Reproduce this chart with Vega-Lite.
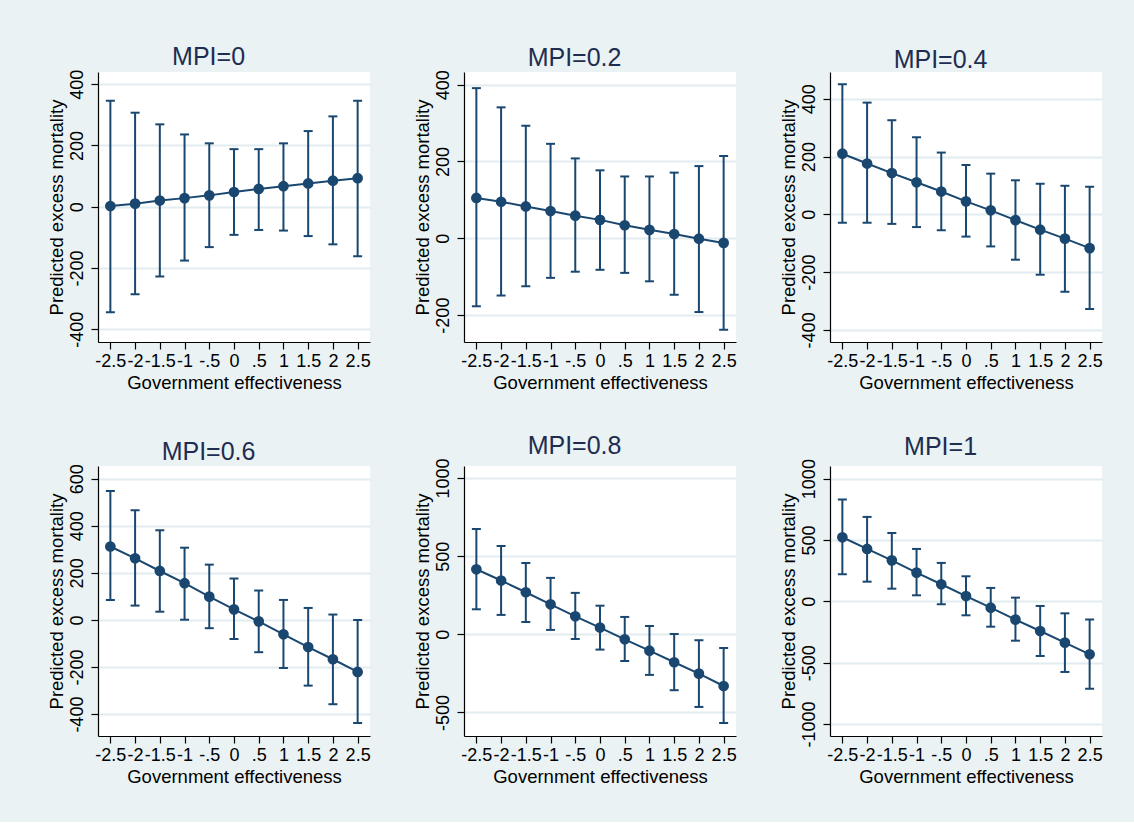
{
  "$schema": "https://vega.github.io/schema/vega-lite/v6.json",
  "padding": {"left": 46, "top": 45, "right": 31, "bottom": 36},
  "datasets": {
    "d": [
      {"mpi": 0, "x": -2.5, "y": 2, "lo": -345, "hi": 346},
      {"mpi": 0, "x": -2, "y": 10, "lo": -286, "hi": 307},
      {"mpi": 0, "x": -1.5, "y": 20, "lo": -228, "hi": 269},
      {"mpi": 0, "x": -1, "y": 28, "lo": -176, "hi": 236},
      {"mpi": 0, "x": -0.5, "y": 37, "lo": -132, "hi": 207},
      {"mpi": 0, "x": 0, "y": 48, "lo": -92, "hi": 188},
      {"mpi": 0, "x": 0.5, "y": 58, "lo": -76, "hi": 188},
      {"mpi": 0, "x": 1, "y": 67, "lo": -78, "hi": 207},
      {"mpi": 0, "x": 1.5, "y": 76, "lo": -96, "hi": 247},
      {"mpi": 0, "x": 2, "y": 85, "lo": -123, "hi": 295},
      {"mpi": 0, "x": 2.5, "y": 93, "lo": -162, "hi": 346},
      {"mpi": 0.2, "x": -2.5, "y": 105, "lo": -177, "hi": 391},
      {"mpi": 0.2, "x": -2, "y": 95, "lo": -149, "hi": 341},
      {"mpi": 0.2, "x": -1.5, "y": 83, "lo": -125, "hi": 293},
      {"mpi": 0.2, "x": -1, "y": 71, "lo": -103, "hi": 246},
      {"mpi": 0.2, "x": -0.5, "y": 59, "lo": -87, "hi": 208},
      {"mpi": 0.2, "x": 0, "y": 48, "lo": -82, "hi": 177},
      {"mpi": 0.2, "x": 0.5, "y": 34, "lo": -90, "hi": 161},
      {"mpi": 0.2, "x": 1, "y": 22, "lo": -112, "hi": 161},
      {"mpi": 0.2, "x": 1.5, "y": 11, "lo": -147, "hi": 171},
      {"mpi": 0.2, "x": 2, "y": -1, "lo": -192, "hi": 188},
      {"mpi": 0.2, "x": 2.5, "y": -12, "lo": -238, "hi": 214},
      {"mpi": 0.4, "x": -2.5, "y": 210, "lo": -29, "hi": 451},
      {"mpi": 0.4, "x": -2, "y": 176, "lo": -29, "hi": 387},
      {"mpi": 0.4, "x": -1.5, "y": 143, "lo": -33, "hi": 326},
      {"mpi": 0.4, "x": -1, "y": 111, "lo": -44, "hi": 267},
      {"mpi": 0.4, "x": -0.5, "y": 79, "lo": -55, "hi": 214},
      {"mpi": 0.4, "x": 0, "y": 45, "lo": -77, "hi": 171},
      {"mpi": 0.4, "x": 0.5, "y": 14, "lo": -111, "hi": 141},
      {"mpi": 0.4, "x": 1, "y": -20, "lo": -157, "hi": 118},
      {"mpi": 0.4, "x": 1.5, "y": -53, "lo": -209, "hi": 106},
      {"mpi": 0.4, "x": 2, "y": -84, "lo": -268, "hi": 99},
      {"mpi": 0.4, "x": 2.5, "y": -117, "lo": -328, "hi": 96},
      {"mpi": 0.6, "x": -2.5, "y": 312, "lo": 85, "hi": 548},
      {"mpi": 0.6, "x": -2, "y": 262, "lo": 61, "hi": 466},
      {"mpi": 0.6, "x": -1.5, "y": 208, "lo": 35, "hi": 381},
      {"mpi": 0.6, "x": -1, "y": 156, "lo": 1, "hi": 307},
      {"mpi": 0.6, "x": -0.5, "y": 99, "lo": -35, "hi": 235},
      {"mpi": 0.6, "x": 0, "y": 45, "lo": -81, "hi": 176},
      {"mpi": 0.6, "x": 0.5, "y": -6, "lo": -137, "hi": 125},
      {"mpi": 0.6, "x": 1, "y": -61, "lo": -204, "hi": 85},
      {"mpi": 0.6, "x": 1.5, "y": -115, "lo": -279, "hi": 51},
      {"mpi": 0.6, "x": 2, "y": -167, "lo": -358, "hi": 23},
      {"mpi": 0.6, "x": 2.5, "y": -221, "lo": -438, "hi": 0},
      {"mpi": 0.8, "x": -2.5, "y": 416, "lo": 160, "hi": 674},
      {"mpi": 0.8, "x": -2, "y": 344, "lo": 124, "hi": 565},
      {"mpi": 0.8, "x": -1.5, "y": 269, "lo": 79, "hi": 457},
      {"mpi": 0.8, "x": -1, "y": 192, "lo": 28, "hi": 361},
      {"mpi": 0.8, "x": -0.5, "y": 115, "lo": -30, "hi": 265},
      {"mpi": 0.8, "x": 0, "y": 43, "lo": -98, "hi": 183},
      {"mpi": 0.8, "x": 0.5, "y": -32, "lo": -171, "hi": 111},
      {"mpi": 0.8, "x": 1, "y": -105, "lo": -260, "hi": 53},
      {"mpi": 0.8, "x": 1.5, "y": -179, "lo": -358, "hi": 2},
      {"mpi": 0.8, "x": 2, "y": -252, "lo": -465, "hi": -38},
      {"mpi": 0.8, "x": 2.5, "y": -331, "lo": -568, "hi": -87},
      {"mpi": 1, "x": -2.5, "y": 522, "lo": 220, "hi": 829},
      {"mpi": 1, "x": -2, "y": 427, "lo": 160, "hi": 688},
      {"mpi": 1, "x": -1.5, "y": 334, "lo": 103, "hi": 557},
      {"mpi": 1, "x": -1, "y": 234, "lo": 49, "hi": 427},
      {"mpi": 1, "x": -0.5, "y": 139, "lo": -24, "hi": 313},
      {"mpi": 1, "x": 0, "y": 43, "lo": -114, "hi": 204},
      {"mpi": 1, "x": 0.5, "y": -52, "lo": -207, "hi": 109},
      {"mpi": 1, "x": 1, "y": -149, "lo": -321, "hi": 30},
      {"mpi": 1, "x": 1.5, "y": -242, "lo": -446, "hi": -38},
      {"mpi": 1, "x": 2, "y": -337, "lo": -576, "hi": -98},
      {"mpi": 1, "x": 2.5, "y": -432, "lo": -712, "hi": -149}
    ]
  },
  "data": {"name": "d"},
  "columns": 3,
  "spacing": {"column": 94, "row": 124},
  "bounds": "flush",
  "concat": [
    {
      "title": "MPI=0", "width": 272, "height": 270,
      "transform": [{"filter": "datum.mpi == 0"}],
      "encoding": {"x": {"field": "x", "type": "quantitative", "title": "Government effectiveness", "scale": {"domain": [-2.75, 2.75], "nice": false, "zero": false}, "axis": {"values": [-2.5, -2, -1.5, -1, -0.5, 0, 0.5, 1, 1.5, 2, 2.5], "labelExpr": "datum.value == 0 ? '0' : (datum.value < 0 ? '-' : '') + replace(toString(abs(datum.value)), '0.', '.')"}}},
      "layer": [
        {"mark": {"type": "rule", "color": "#1A476F", "strokeWidth": 2}, "encoding": {"y": {"field": "lo", "type": "quantitative", "title": "Predicted excess mortality", "scale": {"domain": [-442, 440], "nice": false, "zero": false}, "axis": {"values": [-400, -200, 0, 200, 400], "labelExpr": "(datum.value < 0 ? '-' : '') + toString(abs(datum.value))"}}, "y2": {"field": "hi"}}},
        {"mark": {"type": "tick", "orient": "horizontal", "color": "#1A476F", "size": 9, "thickness": 2, "opacity": 1}, "encoding": {"y": {"field": "lo", "type": "quantitative", "title": "Predicted excess mortality"}}},
        {"mark": {"type": "tick", "orient": "horizontal", "color": "#1A476F", "size": 9, "thickness": 2, "opacity": 1}, "encoding": {"y": {"field": "hi", "type": "quantitative", "title": "Predicted excess mortality"}}},
        {"mark": {"type": "line", "color": "#1A476F", "strokeWidth": 2}, "encoding": {"y": {"field": "y", "type": "quantitative", "title": "Predicted excess mortality"}}},
        {"mark": {"type": "point", "filled": true, "color": "#1A476F", "size": 115, "opacity": 1}, "encoding": {"y": {"field": "y", "type": "quantitative", "title": "Predicted excess mortality"}}}
      ]
    },
    {
      "title": "MPI=0.2", "width": 272, "height": 270,
      "transform": [{"filter": "datum.mpi == 0.2"}],
      "encoding": {"x": {"field": "x", "type": "quantitative", "title": "Government effectiveness", "scale": {"domain": [-2.75, 2.75], "nice": false, "zero": false}, "axis": {"values": [-2.5, -2, -1.5, -1, -0.5, 0, 0.5, 1, 1.5, 2, 2.5], "labelExpr": "datum.value == 0 ? '0' : (datum.value < 0 ? '-' : '') + replace(toString(abs(datum.value)), '0.', '.')"}}},
      "layer": [
        {"mark": {"type": "rule", "color": "#1A476F", "strokeWidth": 2}, "encoding": {"y": {"field": "lo", "type": "quantitative", "title": "Predicted excess mortality", "scale": {"domain": [-270, 433], "nice": false, "zero": false}, "axis": {"values": [-200, 0, 200, 400], "labelExpr": "(datum.value < 0 ? '-' : '') + toString(abs(datum.value))"}}, "y2": {"field": "hi"}}},
        {"mark": {"type": "tick", "orient": "horizontal", "color": "#1A476F", "size": 9, "thickness": 2, "opacity": 1}, "encoding": {"y": {"field": "lo", "type": "quantitative", "title": "Predicted excess mortality"}}},
        {"mark": {"type": "tick", "orient": "horizontal", "color": "#1A476F", "size": 9, "thickness": 2, "opacity": 1}, "encoding": {"y": {"field": "hi", "type": "quantitative", "title": "Predicted excess mortality"}}},
        {"mark": {"type": "line", "color": "#1A476F", "strokeWidth": 2}, "encoding": {"y": {"field": "y", "type": "quantitative", "title": "Predicted excess mortality"}}},
        {"mark": {"type": "point", "filled": true, "color": "#1A476F", "size": 115, "opacity": 1}, "encoding": {"y": {"field": "y", "type": "quantitative", "title": "Predicted excess mortality"}}}
      ]
    },
    {
      "title": "MPI=0.4", "width": 272, "height": 270,
      "transform": [{"filter": "datum.mpi == 0.4"}],
      "encoding": {"x": {"field": "x", "type": "quantitative", "title": "Government effectiveness", "scale": {"domain": [-2.75, 2.75], "nice": false, "zero": false}, "axis": {"values": [-2.5, -2, -1.5, -1, -0.5, 0, 0.5, 1, 1.5, 2, 2.5], "labelExpr": "datum.value == 0 ? '0' : (datum.value < 0 ? '-' : '') + replace(toString(abs(datum.value)), '0.', '.')"}}},
      "layer": [
        {"mark": {"type": "rule", "color": "#1A476F", "strokeWidth": 2}, "encoding": {"y": {"field": "lo", "type": "quantitative", "title": "Predicted excess mortality", "scale": {"domain": [-442, 493], "nice": false, "zero": false}, "axis": {"values": [-400, -200, 0, 200, 400], "labelExpr": "(datum.value < 0 ? '-' : '') + toString(abs(datum.value))"}}, "y2": {"field": "hi"}}},
        {"mark": {"type": "tick", "orient": "horizontal", "color": "#1A476F", "size": 9, "thickness": 2, "opacity": 1}, "encoding": {"y": {"field": "lo", "type": "quantitative", "title": "Predicted excess mortality"}}},
        {"mark": {"type": "tick", "orient": "horizontal", "color": "#1A476F", "size": 9, "thickness": 2, "opacity": 1}, "encoding": {"y": {"field": "hi", "type": "quantitative", "title": "Predicted excess mortality"}}},
        {"mark": {"type": "line", "color": "#1A476F", "strokeWidth": 2}, "encoding": {"y": {"field": "y", "type": "quantitative", "title": "Predicted excess mortality"}}},
        {"mark": {"type": "point", "filled": true, "color": "#1A476F", "size": 115, "opacity": 1}, "encoding": {"y": {"field": "y", "type": "quantitative", "title": "Predicted excess mortality"}}}
      ]
    },
    {
      "title": "MPI=0.6", "width": 272, "height": 270,
      "transform": [{"filter": "datum.mpi == 0.6"}],
      "encoding": {"x": {"field": "x", "type": "quantitative", "title": "Government effectiveness", "scale": {"domain": [-2.75, 2.75], "nice": false, "zero": false}, "axis": {"values": [-2.5, -2, -1.5, -1, -0.5, 0, 0.5, 1, 1.5, 2, 2.5], "labelExpr": "datum.value == 0 ? '0' : (datum.value < 0 ? '-' : '') + replace(toString(abs(datum.value)), '0.', '.')"}}},
      "layer": [
        {"mark": {"type": "rule", "color": "#1A476F", "strokeWidth": 2}, "encoding": {"y": {"field": "lo", "type": "quantitative", "title": "Predicted excess mortality", "scale": {"domain": [-493, 654], "nice": false, "zero": false}, "axis": {"values": [-400, -200, 0, 200, 400, 600], "labelExpr": "(datum.value < 0 ? '-' : '') + toString(abs(datum.value))"}}, "y2": {"field": "hi"}}},
        {"mark": {"type": "tick", "orient": "horizontal", "color": "#1A476F", "size": 9, "thickness": 2, "opacity": 1}, "encoding": {"y": {"field": "lo", "type": "quantitative", "title": "Predicted excess mortality"}}},
        {"mark": {"type": "tick", "orient": "horizontal", "color": "#1A476F", "size": 9, "thickness": 2, "opacity": 1}, "encoding": {"y": {"field": "hi", "type": "quantitative", "title": "Predicted excess mortality"}}},
        {"mark": {"type": "line", "color": "#1A476F", "strokeWidth": 2}, "encoding": {"y": {"field": "y", "type": "quantitative", "title": "Predicted excess mortality"}}},
        {"mark": {"type": "point", "filled": true, "color": "#1A476F", "size": 115, "opacity": 1}, "encoding": {"y": {"field": "y", "type": "quantitative", "title": "Predicted excess mortality"}}}
      ]
    },
    {
      "title": "MPI=0.8", "width": 272, "height": 270,
      "transform": [{"filter": "datum.mpi == 0.8"}],
      "encoding": {"x": {"field": "x", "type": "quantitative", "title": "Government effectiveness", "scale": {"domain": [-2.75, 2.75], "nice": false, "zero": false}, "axis": {"values": [-2.5, -2, -1.5, -1, -0.5, 0, 0.5, 1, 1.5, 2, 2.5], "labelExpr": "datum.value == 0 ? '0' : (datum.value < 0 ? '-' : '') + replace(toString(abs(datum.value)), '0.', '.')"}}},
      "layer": [
        {"mark": {"type": "rule", "color": "#1A476F", "strokeWidth": 2}, "encoding": {"y": {"field": "lo", "type": "quantitative", "title": "Predicted excess mortality", "scale": {"domain": [-651, 1077], "nice": false, "zero": false}, "axis": {"values": [-500, 0, 500, 1000], "labelExpr": "(datum.value < 0 ? '-' : '') + toString(abs(datum.value))"}}, "y2": {"field": "hi"}}},
        {"mark": {"type": "tick", "orient": "horizontal", "color": "#1A476F", "size": 9, "thickness": 2, "opacity": 1}, "encoding": {"y": {"field": "lo", "type": "quantitative", "title": "Predicted excess mortality"}}},
        {"mark": {"type": "tick", "orient": "horizontal", "color": "#1A476F", "size": 9, "thickness": 2, "opacity": 1}, "encoding": {"y": {"field": "hi", "type": "quantitative", "title": "Predicted excess mortality"}}},
        {"mark": {"type": "line", "color": "#1A476F", "strokeWidth": 2}, "encoding": {"y": {"field": "y", "type": "quantitative", "title": "Predicted excess mortality"}}},
        {"mark": {"type": "point", "filled": true, "color": "#1A476F", "size": 115, "opacity": 1}, "encoding": {"y": {"field": "y", "type": "quantitative", "title": "Predicted excess mortality"}}}
      ]
    },
    {
      "title": "MPI=1", "width": 272, "height": 270,
      "transform": [{"filter": "datum.mpi == 1"}],
      "encoding": {"x": {"field": "x", "type": "quantitative", "title": "Government effectiveness", "scale": {"domain": [-2.75, 2.75], "nice": false, "zero": false}, "axis": {"values": [-2.5, -2, -1.5, -1, -0.5, 0, 0.5, 1, 1.5, 2, 2.5], "labelExpr": "datum.value == 0 ? '0' : (datum.value < 0 ? '-' : '') + replace(toString(abs(datum.value)), '0.', '.')"}}},
      "layer": [
        {"mark": {"type": "rule", "color": "#1A476F", "strokeWidth": 2}, "encoding": {"y": {"field": "lo", "type": "quantitative", "title": "Predicted excess mortality", "scale": {"domain": [-1098, 1103], "nice": false, "zero": false}, "axis": {"values": [-1000, -500, 0, 500, 1000], "labelExpr": "(datum.value < 0 ? '-' : '') + toString(abs(datum.value))"}}, "y2": {"field": "hi"}}},
        {"mark": {"type": "tick", "orient": "horizontal", "color": "#1A476F", "size": 9, "thickness": 2, "opacity": 1}, "encoding": {"y": {"field": "lo", "type": "quantitative", "title": "Predicted excess mortality"}}},
        {"mark": {"type": "tick", "orient": "horizontal", "color": "#1A476F", "size": 9, "thickness": 2, "opacity": 1}, "encoding": {"y": {"field": "hi", "type": "quantitative", "title": "Predicted excess mortality"}}},
        {"mark": {"type": "line", "color": "#1A476F", "strokeWidth": 2}, "encoding": {"y": {"field": "y", "type": "quantitative", "title": "Predicted excess mortality"}}},
        {"mark": {"type": "point", "filled": true, "color": "#1A476F", "size": 115, "opacity": 1}, "encoding": {"y": {"field": "y", "type": "quantitative", "title": "Predicted excess mortality"}}}
      ]
    }
  ],
  "config": {
    "background": "#EAF2F3",
    "font": "Liberation Sans",
    "view": {"fill": "white", "stroke": null},
    "axis": {
      "labelFont": "Liberation Sans", "labelFontSize": 18, "labelColor": "black",
      "titleFont": "Liberation Sans", "titleFontSize": 18.5, "titleFontWeight": "normal", "titleColor": "black",
      "domainColor": "black", "domainWidth": 1.2, "tickColor": "black", "tickWidth": 1.2, "tickSize": 7,
      "labelOverlap": false, "labelFlush": false, "labelBound": false
    },
    "axisX": {"grid": false, "labelPadding": 3, "titlePadding": 3},
    "axisY": {"grid": true, "gridColor": "#E2ECEF", "gridWidth": 2, "labelAngle": -90, "labelAlign": "center", "labelBaseline": "bottom", "labelPadding": 5, "titlePadding": 2},
    "title": {"font": "Liberation Sans", "fontSize": 25, "fontWeight": "normal", "color": "#1E2D50", "frame": "bounds", "anchor": "middle", "offset": -1}
  }
}
